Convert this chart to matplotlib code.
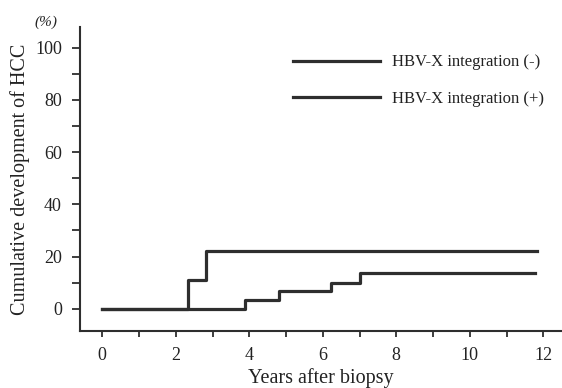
import matplotlib
matplotlib.use("Agg")
import matplotlib.pyplot as plt
from matplotlib.ticker import MultipleLocator

# Data (years after biopsy, cumulative HCC %)
years_pos = [0, 2.33, 2.83, 11.84]
hcc_pos = [0, 11.2, 22.3, 22.3]
years_neg = [0, 3.87, 4.82, 6.22, 7.02, 11.78]
hcc_neg = [0, 3.5, 6.7, 9.7, 13.8, 13.8]
label_neg = "HBV-X integration (-)"
label_pos = "HBV-X integration (+)"
x_ticks = [0, 2, 4, 6, 8, 10, 12]
y_ticks = [0, 20, 40, 60, 80, 100]

plt.rcParams['font.family'] = ['Liberation Serif', 'DejaVu Serif']
col = '#2e2e2e'
tcol = '#222222'

fig = plt.figure(figsize=(5.62, 3.88), dpi=100)
ax = fig.add_axes([80/562, (388-331)/388, 1 - 80/562, (331-27)/388])

ln_neg, = ax.step(years_neg, hcc_neg, where='post', color=col, lw=2.3, label=label_neg)
ln_pos, = ax.step(years_pos, hcc_pos, where='post', color=col, lw=2.3, label=label_pos)

ax.set_xlim(-0.607, 12.51)
ax.set_ylim(-8.5, 107.9)
ax.set_xticks(x_ticks)
ax.set_yticks(y_ticks)
ax.xaxis.set_minor_locator(MultipleLocator(1))
ax.yaxis.set_minor_locator(MultipleLocator(10))
for s in ['top', 'right']:
    ax.spines[s].set_visible(False)
for s in ['left', 'bottom']:
    ax.spines[s].set_linewidth(1.5)
    ax.spines[s].set_color(col)
ax.tick_params(axis='both', which='both', direction='out', width=1.3, color=col,
               labelsize=13, labelcolor=tcol)
ax.tick_params(axis='x', which='both', length=4.5, pad=7)
ax.tick_params(axis='y', which='both', length=6, pad=7)

ax.set_xlabel("Years after biopsy", fontsize=14.5, color=tcol, labelpad=3)
ax.set_ylabel("Cumulative development of HCC", fontsize=14.5, color=tcol, labelpad=4)
fig.text(46/562, 1 - 22/388, "(%)", fontsize=11, style='italic', ha='center', va='center', color=tcol)

leg = ax.legend(handles=[ln_neg, ln_pos], loc='upper left',
                bbox_to_anchor=(293/562, 1 - 54.5/388), bbox_transform=fig.transFigure,
                frameon=False, fontsize=12, handlelength=5.2, handletextpad=0.72,
                labelspacing=1.25, borderaxespad=0, borderpad=0)
for t in leg.get_texts():
    t.set_color(tcol)

fig.savefig("out.png", dpi=100)
